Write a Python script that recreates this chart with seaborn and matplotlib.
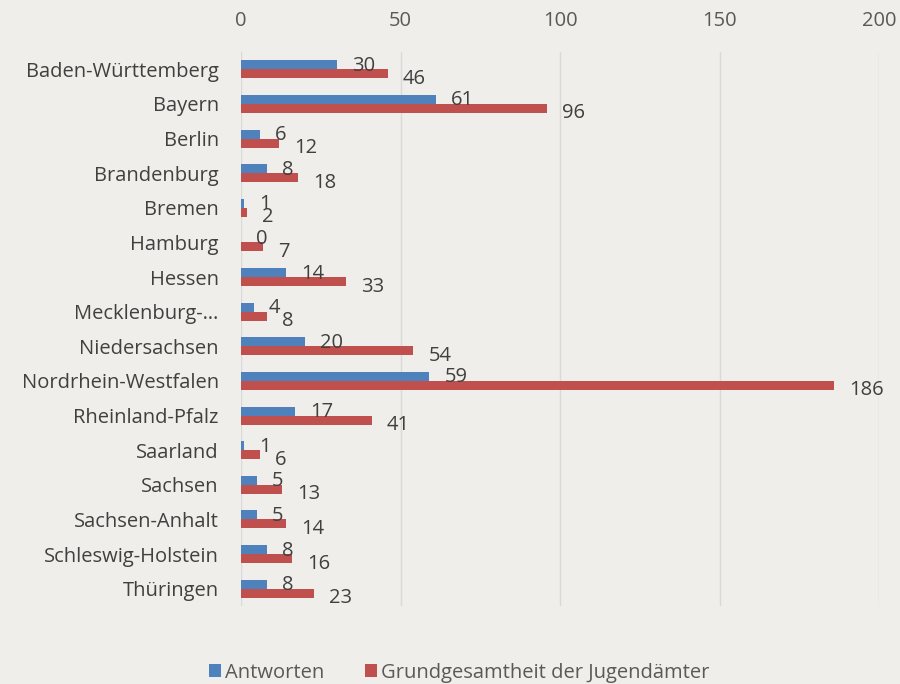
import pandas as pd
import numpy as np
import matplotlib
matplotlib.use('Agg')
import matplotlib.pyplot as plt
import seaborn as sns

# data
laender = ['Baden-Württemberg', 'Bayern', 'Berlin', 'Brandenburg', 'Bremen', 'Hamburg',
           'Hessen', 'Mecklenburg-…', 'Niedersachsen', 'Nordrhein-Westfalen',
           'Rheinland-Pfalz', 'Saarland', 'Sachsen', 'Sachsen-Anhalt',
           'Schleswig-Holstein', 'Thüringen']
antworten = [30, 61, 6, 8, 1, 0, 14, 4, 20, 59, 17, 1, 5, 5, 8, 8]
grundgesamtheit = [46, 96, 12, 18, 2, 7, 33, 8, 54, 186, 41, 6, 13, 14, 16, 23]
series = ['Antworten', 'Grundgesamtheit der Jugendämter']
x_ticks = [0, 50, 100, 150, 200]

bg = '#EFEEEA'
text_col = '#404040'
colors = ['#4F81BD', '#C0504D']

df = pd.DataFrame({
    'Land': laender * 2,
    'Wert': antworten + grundgesamtheit,
    'Reihe': [series[0]] * len(laender) + [series[1]] * len(laender),
})

sns.set_theme(style='white')
plt.rcParams['font.family'] = ['Open Sans', 'DejaVu Sans']

fig = plt.figure(figsize=(9, 6.84), dpi=100, facecolor=bg)
ax = fig.add_axes([0.2678, 0.114, 0.709, 0.81])
ax.set_facecolor(bg)

sns.barplot(data=df, y='Land', x='Wert', hue='Reihe', orient='h',
            palette=colors, width=0.52, gap=0, saturation=1, ax=ax,
            legend=True, edgecolor='none')

ax.set_xlim(0, 200)
ax.set_xticks(x_ticks)
ax.xaxis.tick_top()
ax.tick_params(axis='x', length=0, labelsize=14.5, colors='#595959', pad=15)
ax.tick_params(axis='y', length=0, labelsize=14.5, colors=text_col, pad=16)
ax.set_xlabel('')
ax.set_ylabel('')
ax.grid(axis='x', color='#D9D9D9', linewidth=1)
ax.set_axisbelow(True)
for s in ax.spines.values():
    s.set_visible(False)
ax.axvline(0, color='#D9D9D9', linewidth=1.2, zorder=0)

# value labels next to bar ends (red ones sit a little lower, as in Excel)
for cont, dy in zip(ax.containers, [-1, -5]):
    for bar in cont:
        w = bar.get_width()
        yc = bar.get_y() + bar.get_height() / 2
        ax.annotate(f'{int(w)}', xy=(w, yc), xytext=(15, dy),
                    textcoords='offset pixels', va='center', ha='left',
                    fontsize=14.5, color=text_col)

handles, labels = ax.get_legend_handles_labels()
ax.get_legend().remove()
fig.legend(handles, labels, loc='lower center', bbox_to_anchor=(0.51, -0.025),
           ncol=2, frameon=False, fontsize=14.5, handlelength=0.6, handleheight=0.6,
           handletextpad=0.2, columnspacing=2.0, labelcolor='#595959')

fig.savefig('out.png', facecolor=bg)
